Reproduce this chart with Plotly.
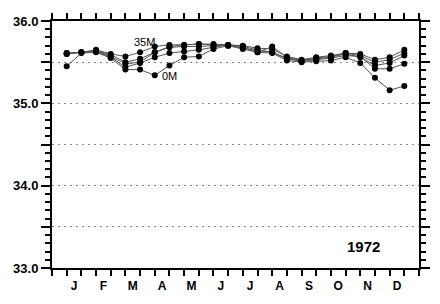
import plotly.graph_objects as go

# semi-monthly sample index (1..24), axis spans 0..25
x_idx = list(range(1, 25))
months = ["J", "F", "M", "A", "M", "J", "J", "A", "S", "O", "N", "D"]
month_pos = [1.5 + 2 * i for i in range(12)]

s_0m = [35.45, 35.61, 35.62, 35.55, 35.41, 35.41, 35.34, 35.46, 35.56, 35.57, 35.66, 35.70,
        35.66, 35.62, 35.61, 35.52, 35.50, 35.51, 35.52, 35.56, 35.49, 35.31, 35.16, 35.21]
s_a = [35.60, 35.62, 35.63, 35.56, 35.44, 35.49, 35.56, 35.61, 35.63, 35.65, 35.68, 35.71,
       35.67, 35.64, 35.62, 35.54, 35.51, 35.53, 35.55, 35.58, 35.57, 35.42, 35.42, 35.48]
s_b = [35.60, 35.62, 35.64, 35.57, 35.48, 35.50, 35.62, 35.68, 35.69, 35.69, 35.70, 35.71,
       35.69, 35.65, 35.62, 35.55, 35.52, 35.54, 35.56, 35.60, 35.56, 35.46, 35.49, 35.58]
s_c = [35.61, 35.62, 35.64, 35.59, 35.50, 35.54, 35.62, 35.69, 35.71, 35.72, 35.71, 35.70,
       35.68, 35.62, 35.69, 35.56, 35.52, 35.55, 35.57, 35.61, 35.58, 35.50, 35.53, 35.61]
s_35m = [35.61, 35.62, 35.65, 35.60, 35.57, 35.62, 35.69, 35.71, 35.71, 35.72, 35.72, 35.71,
         35.70, 35.67, 35.66, 35.57, 35.53, 35.56, 35.58, 35.61, 35.60, 35.53, 35.56, 35.65]

series = [s_0m, s_a, s_b, s_c, s_35m]

ytick_vals = [33.0, 33.5, 34.0, 34.5, 35.0, 35.5, 36.0]
ytick_text = ["33.0", "", "34.0", "", "35.0", "", "36.0"]

fig = go.Figure()
for s in series:
    fig.add_trace(go.Scatter(
        x=x_idx, y=s, mode="lines+markers",
        line=dict(color="#555555", width=1),
        marker=dict(color="black", size=6),
        showlegend=False, hoverinfo="skip"))

FAM = "Liberation Sans, Arial, sans-serif"

fig.update_layout(
    width=440, height=304,
    margin=dict(l=52, r=10, t=21, b=36),
    paper_bgcolor="white", plot_bgcolor="white",
    xaxis=dict(
        range=[0, 25], showgrid=False, zeroline=False,
        showline=True, linecolor="black", linewidth=2, mirror="ticks",
        tickmode="array", tickvals=month_pos, ticktext=months, ticks="",
        tickfont=dict(family=FAM, size=12, color="black", weight="bold"),
        ticklabelstandoff=6,
        minor=dict(tickmode="linear", tick0=0, dtick=1, ticks="outside", ticklen=6,
                   tickwidth=1.5, tickcolor="black", showgrid=False),
    ),
    yaxis=dict(
        range=[33, 36], zeroline=False,
        showline=True, linecolor="black", linewidth=2, mirror="ticks",
        tickmode="array", tickvals=ytick_vals, ticktext=ytick_text,
        ticks="outside", ticklen=9, tickwidth=1.5, tickcolor="black",
        tickfont=dict(family=FAM, size=13, color="black", weight="bold"),
        showgrid=True, gridcolor="#8a8a8a", gridwidth=1, griddash="2px,4px",
        minor=dict(tickmode="linear", tick0=33, dtick=0.1, ticks="outside", ticklen=5,
                   tickwidth=1.5, tickcolor="black", showgrid=False),
    ),
    annotations=[
        dict(text="35M", x=6.28, y=35.745, xref="x", yref="y", showarrow=False,
             xanchor="center", yanchor="middle",
             font=dict(family=FAM, size=11, color="black")),
        dict(text="0M", x=7.35, y=35.335, xref="x", yref="y", showarrow=False,
             xanchor="left", yanchor="middle",
             font=dict(family=FAM, size=11, color="black")),
        dict(text="1972", x=0.849, y=0.088, xref="paper", yref="paper", showarrow=False,
             xanchor="center", yanchor="middle",
             font=dict(family=FAM, size=15, color="black", weight="bold")),
    ],
)

fig.write_html("out.html")
